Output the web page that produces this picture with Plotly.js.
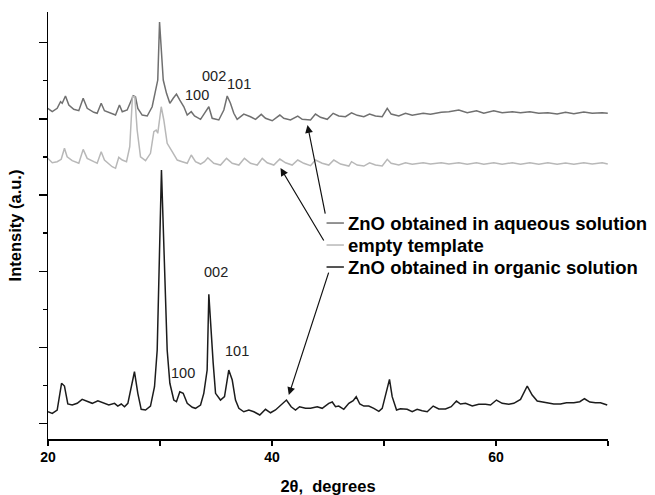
<!DOCTYPE html>
<html>
<head>
<meta charset="utf-8">
<script src="https://cdn.plot.ly/plotly-3.0.1.min.js"></script>
<style>html,body{margin:0;padding:0;background:#fff;}#chart{width:655px;height:495px;}</style>
</head>
<body>
<div id="chart"></div>
<script>
// 2-theta (degrees) and relative intensity (a.u., stacked offsets as in the figure)
const organicX = [20.0,20.38,20.82,21.21,21.47,21.77,22.16,22.61,23.05,23.5,23.95,24.45,24.98,25.43,25.94,26.23,26.54,26.83,27.13,27.43,27.72,28.02,28.32,28.71,29.15,29.51,29.75,30.13,30.64,30.88,31.23,31.47,31.77,32.07,32.43,32.88,33.17,33.62,33.91,34.21,34.36,34.75,34.96,35.4,35.76,36.14,36.45,36.74,37.04,37.48,37.93,38.38,38.91,39.42,39.87,40.31,40.91,41.29,41.71,42.1,42.46,42.99,43.44,44.04,44.48,45.07,45.38,45.67,45.96,46.41,46.86,47.25,47.52,47.84,48.2,48.64,49.09,49.54,49.84,50.22,50.49,50.73,51.12,51.47,52.07,52.52,52.96,53.41,53.86,54.39,54.89,55.49,56.0,56.47,56.83,57.28,57.88,58.46,59.06,59.51,60.04,60.55,61.14,61.59,62.19,62.79,63.23,63.68,64.13,64.57,65.16,65.76,66.29,66.95,67.48,67.9,68.38,68.88,69.33,69.93];
const organicY = [0.152,0.131,0.175,0.526,0.49,0.254,0.24,0.263,0.315,0.284,0.263,0.297,0.263,0.24,0.263,0.227,0.254,0.218,0.263,0.481,0.678,0.394,0.184,0.175,0.227,0.481,0.963,3.329,0.963,0.526,0.306,0.284,0.415,0.394,0.263,0.21,0.197,0.24,0.394,0.7,1.695,0.788,0.394,0.306,0.35,0.7,0.569,0.306,0.197,0.152,0.175,0.152,0.109,0.184,0.139,0.175,0.263,0.306,0.218,0.175,0.218,0.197,0.197,0.218,0.197,0.263,0.28,0.218,0.227,0.184,0.263,0.297,0.35,0.254,0.227,0.227,0.197,0.158,0.197,0.438,0.578,0.35,0.175,0.192,0.184,0.152,0.184,0.166,0.152,0.227,0.188,0.188,0.218,0.293,0.254,0.263,0.227,0.25,0.25,0.24,0.306,0.263,0.25,0.263,0.315,0.49,0.372,0.293,0.28,0.276,0.254,0.254,0.271,0.271,0.284,0.323,0.28,0.271,0.271,0.24];

const aqueousX = [19.98,20.38,20.82,21.12,21.27,21.56,21.86,22.3,22.75,23.14,23.5,24.09,24.39,24.75,25.04,25.58,26.03,26.38,26.63,27.07,27.43,27.61,27.81,28.02,28.41,28.86,29.3,29.6,29.8,29.96,30.29,30.58,30.88,31.18,31.47,31.77,32.13,32.43,32.79,33.08,33.62,33.97,34.36,34.66,35.25,35.7,36.0,36.29,36.59,36.89,37.48,38.08,38.53,39.04,39.42,40.02,40.7,41.05,41.65,42.3,42.7,43.44,43.88,44.33,44.93,45.46,45.96,46.56,47.1,47.61,48.2,48.71,49.24,49.84,50.29,50.64,51.32,51.92,52.52,53.5,54.15,55.11,55.79,56.68,57.43,58.26,58.91,59.8,60.55,61.45,62.19,63.02,63.82,64.63,65.46,66.21,66.95,67.84,68.59,69.48,69.98];
const aqueousY = [4.139,4.095,4.139,4.226,4.205,4.301,4.183,4.126,4.108,4.271,4.139,4.087,4.074,4.205,4.108,4.074,4.051,4.183,4.095,4.117,4.248,4.305,4.292,4.139,4.051,4.038,4.16,4.38,4.511,5.274,4.511,4.336,4.205,4.271,4.327,4.248,4.16,4.051,4.095,4.038,3.995,4.074,4.16,4.008,3.986,4.117,4.301,4.205,4.074,3.995,4.064,4.029,3.995,4.06,4.008,3.976,4.051,4.008,3.986,4.038,3.995,3.986,4.064,4.021,3.995,4.074,4.038,4.029,4.081,4.047,4.029,4.064,4.038,4.029,4.139,4.064,4.038,4.074,4.047,4.074,4.06,4.087,4.095,4.117,4.081,4.108,4.074,4.108,4.081,4.095,4.081,4.095,4.074,4.081,4.064,4.087,4.068,4.091,4.074,4.081,4.074];

const templateX = [19.98,20.38,20.82,21.18,21.47,21.71,22.16,22.75,23.14,23.5,24.09,24.39,24.75,25.04,25.73,26.03,26.32,26.63,27.01,27.3,27.54,27.75,27.96,28.26,28.71,29.15,29.45,29.66,29.8,30.11,30.34,30.64,31.09,31.54,31.98,32.43,32.79,33.17,33.62,33.97,34.27,34.8,35.4,35.94,36.45,37.04,37.54,38.08,38.68,39.13,39.57,40.16,40.7,41.21,41.8,42.3,42.84,43.44,43.88,44.48,45.07,45.52,46.12,46.86,47.1,47.61,48.2,48.71,49.24,49.84,50.29,50.64,51.32,51.92,52.52,53.5,54.15,55.11,55.79,56.68,57.43,58.26,58.91,59.8,60.55,61.45,62.19,63.02,63.82,64.63,65.46,66.21,66.95,67.84,68.59,69.48,69.98];
const templateY = [3.482,3.424,3.438,3.469,3.614,3.503,3.451,3.417,3.6,3.482,3.438,3.417,3.569,3.46,3.372,3.351,3.495,3.46,3.438,3.635,4.292,4.292,3.854,3.503,3.451,3.548,3.832,3.854,3.811,4.16,3.986,3.679,3.569,3.46,3.438,3.417,3.526,3.438,3.407,3.438,3.49,3.417,3.394,3.482,3.417,3.394,3.482,3.417,3.394,3.482,3.424,3.394,3.473,3.424,3.394,3.46,3.417,3.385,3.46,3.417,3.394,3.46,3.407,3.381,3.438,3.394,3.381,3.424,3.394,3.381,3.469,3.417,3.394,3.424,3.403,3.424,3.407,3.424,3.407,3.424,3.403,3.424,3.403,3.424,3.403,3.424,3.403,3.424,3.403,3.424,3.403,3.421,3.403,3.424,3.407,3.424,3.407];

const seriesNames = ["ZnO obtained in aqueous solution", "empty template", "ZnO obtained in organic solution"];
const seriesColors = ["#707070", "#b8b8b8", "#1c1c1c"];
const xTickVals = [20, 30, 40, 50, 60, 70];
const xTickText = ["20", "", "40", "", "60", ""];
const peakLabels = ["100", "002", "101"];

const FONT = "Liberation Sans, Arial, Helvetica, sans-serif";

const traces = [
  {x: aqueousX, y: aqueousY, name: seriesNames[0], mode: "lines", line: {color: seriesColors[0], width: 1.5}},
  {x: templateX, y: templateY, name: seriesNames[1], mode: "lines", line: {color: seriesColors[1], width: 1.5}},
  {x: organicX, y: organicY, name: seriesNames[2], mode: "lines", line: {color: seriesColors[2], width: 1.5}}
];

const labelFont = {family: FONT, size: 14.5, color: "#222"};
const legendFont = {family: FONT, size: 18.5, color: "#000", weight: "bold"};

const annotations = [
  // peak labels, aqueous curve
  {x: 33.33, y: 4.31, text: peakLabels[0], showarrow: false, font: labelFont},
  {x: 34.8, y: 4.56, text: peakLabels[1], showarrow: false, font: labelFont},
  {x: 37.04, y: 4.46, text: peakLabels[2], showarrow: false, font: labelFont},
  // peak labels, organic curve
  {x: 32.07, y: 0.657, text: peakLabels[0], showarrow: false, font: labelFont},
  {x: 34.96, y: 1.99, text: peakLabels[1], showarrow: false, font: labelFont},
  {x: 36.83, y: 0.954, text: peakLabels[2], showarrow: false, font: labelFont},
  // legend texts
  {x: 46.62, y: 2.632, text: seriesNames[0], showarrow: false, xanchor: "left", font: legendFont},
  {x: 46.62, y: 2.343, text: seriesNames[1], showarrow: false, xanchor: "left", font: legendFont},
  {x: 46.62, y: 2.054, text: seriesNames[2], showarrow: false, xanchor: "left", font: legendFont},
  // arrows from legend to curves
  {x: 43.17, y: 3.92, ax: 44.78, ay: 2.737, axref: "x", ayref: "y", text: "", showarrow: true, arrowhead: 2, arrowsize: 1.3, arrowwidth: 1.2, arrowcolor: "#111"},
  {x: 40.76, y: 3.355, ax: 44.7, ay: 2.382, axref: "x", ayref: "y", text: "", showarrow: true, arrowhead: 2, arrowsize: 1.3, arrowwidth: 1.2, arrowcolor: "#111"},
  {x: 41.5, y: 0.372, ax: 45.1, ay: 2.0, axref: "x", ayref: "y", text: "", showarrow: true, arrowhead: 2, arrowsize: 1.3, arrowwidth: 1.2, arrowcolor: "#111"}
];

const shapes = [
  {type: "line", xref: "x", yref: "y", x0: 44.87, x1: 46.42, y0: 2.632, y1: 2.632, line: {color: seriesColors[0], width: 1.5}},
  {type: "line", xref: "x", yref: "y", x0: 44.87, x1: 46.42, y0: 2.343, y1: 2.343, line: {color: seriesColors[1], width: 1.5}},
  {type: "line", xref: "x", yref: "y", x0: 44.87, x1: 46.42, y0: 2.054, y1: 2.054, line: {color: seriesColors[2], width: 1.5}}
];

const layout = {
  width: 655, height: 495,
  margin: {l: 48, r: 47, t: 12, b: 56},
  paper_bgcolor: "#ffffff", plot_bgcolor: "#ffffff",
  showlegend: false,
  font: {family: FONT, color: "#000"},
  xaxis: {
    range: [20, 70], showgrid: false, zeroline: false,
    showline: true, linecolor: "#000", linewidth: 1.5,
    tickmode: "array", tickvals: xTickVals, ticktext: xTickText,
    ticks: "outside", ticklen: 5, tickwidth: 1.2, tickcolor: "#000",
    tickfont: {family: FONT, size: 14, color: "#000", weight: "bold"},
    title: {text: "2θ,  degrees", font: {family: FONT, size: 16.5, color: "#000", weight: "bold"}, standoff: 17}
  },
  yaxis: {
    range: [-0.206, 5.405], showgrid: false, zeroline: false,
    showline: true, linecolor: "#000", linewidth: 1.5,
    tickmode: "linear", tick0: 0, dtick: 1,
    ticks: "outside", ticklen: 8, tickwidth: 1.2, tickcolor: "#000",
    showticklabels: false,
    minor: {tick0: 0, dtick: 0.5, ticks: "outside", ticklen: 4, tickwidth: 1.2, tickcolor: "#000", showgrid: false},
    title: {text: "Intensity (a.u.)", font: {family: FONT, size: 16.5, color: "#000", weight: "bold"}, standoff: 12}
  },
  annotations: annotations,
  shapes: shapes
};

Plotly.newPlot("chart", traces, layout, {displayModeBar: false, staticPlot: true});
</script>
</body>
</html>
